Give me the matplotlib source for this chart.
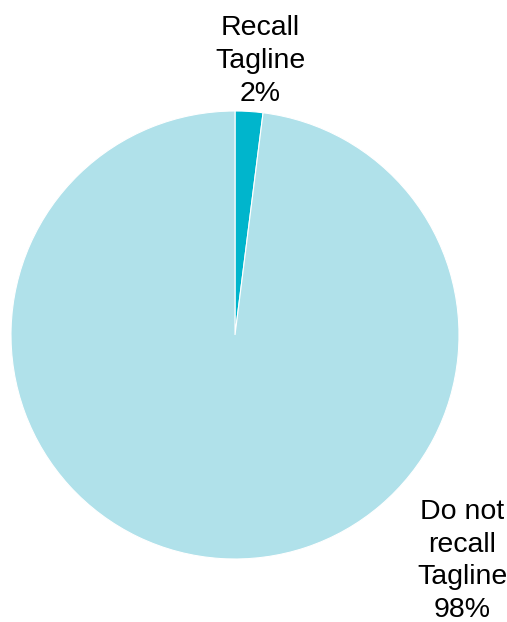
import matplotlib
matplotlib.use("Agg")
import matplotlib.pyplot as plt

categories = ["Recall\nTagline", "Do not\nrecall\nTagline"]
values = [2, 98]
colors = ["#00B5CC", "#B0E1EA"]

plt.rcParams["font.family"] = ["Liberation Sans", "DejaVu Sans"]

W, H = 507, 622
fig = plt.figure(figsize=(W / 100, H / 100), dpi=100)
ax = fig.add_axes([0, 0, 1, 1])

cx, cy, r = 235, H - 335, 224
ax.pie(values, colors=colors, startangle=90, counterclock=False,
       center=(cx, cy), radius=r, frame=True,
       wedgeprops=dict(edgecolor="white", linewidth=0.8))
ax.set_xlim(0, W)
ax.set_ylim(0, H)
ax.set_aspect("equal")
ax.axis("off")

label_pos = [(260, H - 61), (462, H - 561)]
for cat, val, (x, y) in zip(categories, values, label_pos):
    ax.text(x, y, f"{cat}\n{val}%", ha="center", va="center",
            fontsize=20.5, linespacing=1.34, color="black")

fig.savefig("out.png", dpi=100)
